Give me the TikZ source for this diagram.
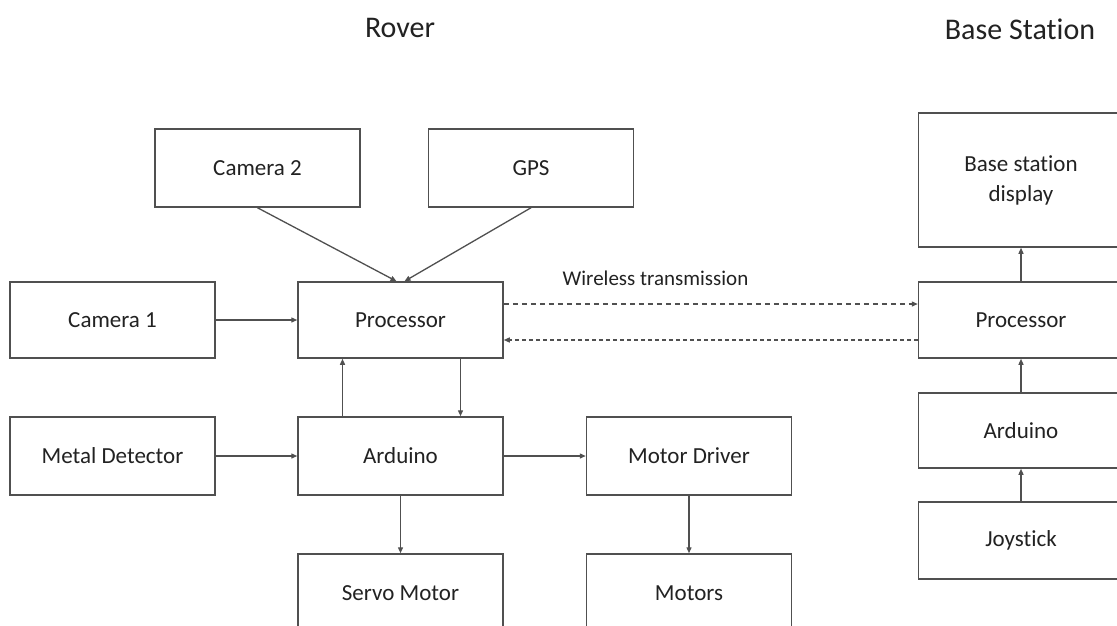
\documentclass[tikz,border=0pt]{standalone}
\usepackage{fontspec}
\setmainfont{Carlito}[Ligatures={NoCommon}]
\usetikzlibrary{arrows.meta}
\definecolor{linec}{HTML}{505050}
\definecolor{textc}{HTML}{222222}
\begin{document}
\begin{tikzpicture}[x=1pt,y=-1pt,
  box/.style={draw=linec, line width=1.5pt, minimum width=205pt, minimum height=78pt,
    inner sep=0pt, align=center, text=textc, font=\fontsize{23}{30}\selectfont},
  arr/.style={draw=linec, line width=1.3pt, -{Triangle[length=6pt,width=5pt]}},
  wl/.style={arr, dash pattern=on 5pt off 4pt},
  wl2/.style={arr, dash pattern=on 4pt off 3pt},
  title/.style={text=textc, font=\fontsize{30}{36}\selectfont}]
\useasboundingbox (0,0) rectangle (1117,625);
\clip (0,0) rectangle (1117,625);
\fill[white] (0,0) rectangle (1117,625);

% titles
\node[title] (trover) at (400,28) {Rover};
\node[title] (tbase) at (1020,29) {Base Station};

% rover
\node[box] (cam2) at (257.5,168) {Camera 2};
\node[box] (gps) at (531,168) {GPS};
\node[box, minimum height=76pt] (cam1) at (112.5,320) {Camera 1};
\node[box, minimum height=76pt] (proc) at (400.5,320) {Processor};
\node[box] (metal) at (112.5,456) {Metal Detector};
\node[box] (ard) at (400.5,456) {Arduino};
\node[box] (mdrv) at (689,456) {Motor Driver};
\node[box] (servo) at (400.5,593) {Servo Motor};
\node[box] (motors) at (689,593) {Motors};

% base station
\node[box, minimum height=134pt] (bdisp) at (1021,180) {Base station\\display};
\node[box, minimum height=76pt] (bproc) at (1021,320) {Processor};
\node[box, minimum height=75pt] (bard) at (1021,430.5) {Arduino};
\node[box, minimum height=77pt] (joy) at (1021,540.5) {Joystick};

% connectors
\draw[arr] (cam2.south) -- ([xshift=-4pt]proc.north);
\draw[arr] (gps.south) -- ([xshift=4pt]proc.north);
\draw[arr] (cam1.east) -- (proc.west);
\draw[arr] ([xshift=-58pt]ard.north) -- ([xshift=-58pt]proc.south);
\draw[arr] ([xshift=60pt]proc.south) -- ([xshift=60pt]ard.north);
\draw[arr] (metal.east) -- (ard.west);
\draw[arr] (ard.east) -- (mdrv.west);
\draw[arr] (ard.south) -- (servo.north);
\draw[arr] (mdrv.south) -- (motors.north);

\draw[wl] ([yshift=16pt]proc.east) -- ([yshift=16pt]bproc.west);
\draw[wl2] ([yshift=-20pt]bproc.west) -- ([yshift=-20pt]proc.east);
\node[text=textc, font=\fontsize{21}{25}\selectfont] (wlabel) at (655.5,278) {Wireless transmission};

\draw[arr] (bproc.north) -- (bdisp.south);
\draw[arr] (bard.north) -- (bproc.south);
\draw[arr] (joy.north) -- (bard.south);
\end{tikzpicture}
\end{document}
